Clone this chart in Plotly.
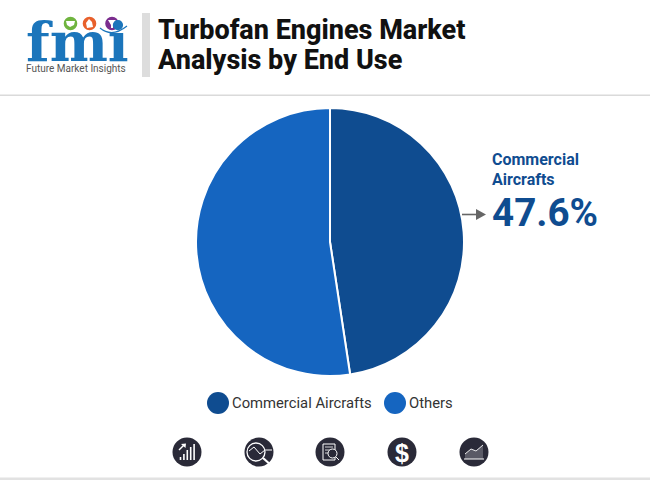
import plotly.graph_objects as go

categories = ["Commercial Aircrafts", "Others"]
shares = [47.6, 52.4]
colors = ["#0F4C90", "#1565C0"]
title_lines = ["Turbofan Engines Market", "Analysis by End Use"]
callout_label = ["Commercial", "Aircrafts"]
callout_value = "47.6%"
logo_word = "fmi"
logo_caption = "Future Market Insights"

W, H = 650, 480
def X(p): return p / W
def Y(p): return 1 - p / H

fig = go.Figure(go.Pie(
    labels=categories, values=shares, sort=False, direction="clockwise", rotation=0,
    marker=dict(colors=colors, line=dict(color="white", width=2)),
    textinfo="none", hoverinfo="label+percent", showlegend=False,
    domain=dict(x=[X(196), X(464)], y=[Y(376), Y(108)]),
))

shapes, ann = [], []
def rect(x0, y0, x1, y1, c, layer="above"):
    shapes.append(dict(type="rect", xref="paper", yref="paper", x0=X(x0), x1=X(x1), y0=Y(y0), y1=Y(y1),
                       fillcolor=c, line=dict(width=0), layer=layer))
def circ(cx, cy, r, c, layer="above"):
    shapes.append(dict(type="circle", xref="paper", yref="paper", x0=X(cx-r), x1=X(cx+r), y0=Y(cy-r), y1=Y(cy+r),
                       fillcolor=c, line=dict(width=0), layer=layer))
def line(x0, y0, x1, y1, c="white", w=1.2):
    shapes.append(dict(type="line", xref="paper", yref="paper", x0=X(x0), x1=X(x1), y0=Y(y0), y1=Y(y1),
                       line=dict(color=c, width=w), layer="above"))
def poly(pts, c):
    d = "M " + " L ".join(f"{X(x):.5f},{Y(y):.5f}" for x, y in pts) + " Z"
    shapes.append(dict(type="path", xref="paper", yref="paper", path=d, fillcolor=c, line=dict(width=0), layer="above"))
def text(x, y, s, size, color, weight=400, anchor="left", font="Roboto", height=None):
    a = dict(xref="paper", yref="paper", x=X(x), y=Y(y), text=s, showarrow=False,
             xanchor=anchor, yanchor="middle", font=dict(family=font, size=size, color=color, weight=weight),
             align="left", borderpad=0, borderwidth=0)
    if height:
        a["height"] = height
    ann.append(a)

# separators
rect(0, 94.5, W, 96, "#DADADA")
rect(0, 477.5, W, 480, "#E2E2E2")
rect(142, 13, 150, 77, "#DDDDDD")

# logo
text(77, 41, logo_word, 55, "#1B75BB", 700, "center", "DejaVu Serif", height=44)
for y in range(24, 62, 4):
    line(24, y, 130, y, "white", 1.5)
text(76, 68.5, logo_caption, 10, "#555555", 400, "center", "Roboto")
circ(70.5, 23.5, 6.8, "#6FB43F")
circ(89.5, 23.5, 6.8, "#E8602C")
circ(112, 23.5, 6.8, "#7B2D8E")
poly([(66, 21), (75, 21), (74, 25), (70, 27), (67, 25)], "white")
poly([(89, 19), (92, 22), (93, 27), (87, 28), (86, 23)], "white")
poly([(108, 20), (116, 20), (113, 25), (113, 28), (111, 28), (111, 25)], "white")
shapes.append(dict(type="path", xref="paper", yref="paper",
                   path=f"M {X(100)},{Y(28)} Q {X(112)},{Y(38)} {X(127)},{Y(26)}",
                   line=dict(color="#1B75BB", width=1.2), layer="above"))

# title
text(158, 30, title_lines[0], 27, "#111111", 800)
text(158, 60, title_lines[1], 27, "#111111", 800)

# callout
text(492, 160, callout_label[0], 16, "#0F4C90", 700)
text(492, 179, callout_label[1], 16, "#0F4C90", 700)
text(491.5, 212, callout_value, 38.6, "#0F4C90", 700)
line(462, 214.5, 479, 214.5, "#666666", 1.6)
poly([(476, 209), (486, 214.5), (476, 220)], "#666666")

# legend
circ(218, 403, 11, colors[0])
text(232, 403, categories[0], 14.8, "#333333")
circ(395, 403, 11, colors[1])
text(409, 403, categories[1], 14.8, "#333333")

# footer icons
dark = "#2A2A38"
for cx in (187, 259, 330, 402, 474):
    circ(cx, 452, 14.5, dark)
for i, h in enumerate((3, 6, 10, 13, 16)):
    line(180.5 + i*3.4, 460, 180.5 + i*3.4, 460 - h, "white", 1.6)
line(179, 450, 184, 445, "white", 1.5)
poly([(181, 444), (186, 443.5), (185.5, 448)], "white")
shapes.append(dict(type="circle", xref="paper", yref="paper", x0=X(247), x1=X(265), y0=Y(461), y1=Y(443),
                   line=dict(color="white", width=1.3), layer="above"))
line(263, 458, 272, 466, "white", 2.2)
line(249, 451, 254, 447, "white", 1); line(254, 447, 260, 454, "white", 1); line(260, 454, 265, 450, "white", 1); line(265, 450, 272, 450, "white", 1)
shapes.append(dict(type="rect", xref="paper", yref="paper", x0=X(323), x1=X(335), y0=Y(460), y1=Y(444),
                   line=dict(color="white", width=1), layer="above"))
for y in (447, 450, 453):
    line(325, y, 333, y, "white", 0.8)
shapes.append(dict(type="circle", xref="paper", yref="paper", x0=X(328), x1=X(337), y0=Y(458), y1=Y(449),
                   fillcolor=dark, line=dict(color="white", width=1), layer="above"))
line(336, 457, 339, 460, "white", 1)
text(402, 452.5, "$", 25, "white", 700, "center", "Liberation Sans")
poly([(465, 459), (465, 454), (471, 449), (476, 451), (483, 445), (483, 459)], "#5A5A66")
line(465, 454, 471, 449, "white", 0.9); line(471, 449, 476, 451, "white", 0.9); line(476, 451, 483, 445, "white", 0.9)
line(464, 459, 484, 459, "white", 1)

fig.update_layout(width=W, height=H, margin=dict(l=0, r=0, t=0, b=0), paper_bgcolor="white",
                  plot_bgcolor="white", shapes=shapes, annotations=ann, showlegend=False)
fig.write_html("out.html", config=dict(displayModeBar=False),
               post_script="document.body.style.margin='0';")
